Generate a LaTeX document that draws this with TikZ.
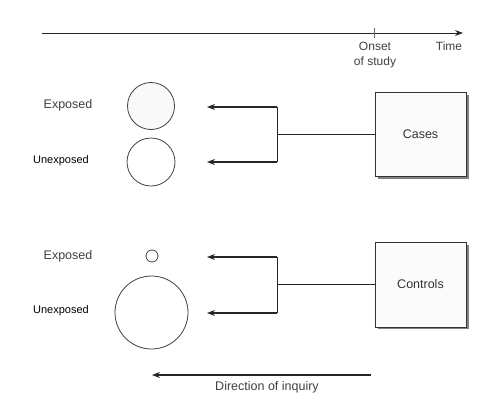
\documentclass[tikz,border=0pt]{standalone}
\usepackage{fontspec}
\setmainfont{Liberation Sans}
\usetikzlibrary{arrows.meta}
\begin{document}
\begin{tikzpicture}[x=1pt,y=-1pt,
  line width=1.1pt,
  lab/.style={font=\fontsize{12.5}{14}\selectfont, inner sep=0pt, text=black!75},
  ulab/.style={font=\fontsize{11}{13}\selectfont, inner sep=0pt, text=black},
  grp/.style={circle, draw=black!75, line width=0.8pt, inner sep=0pt},
  groupbox/.style={draw=black!80, line width=0.8pt, fill=gray!3, minimum width=91pt, minimum height=84pt, inner sep=0pt,
     font=\fontsize{12.5}{14}\selectfont, text=black!80},
  shadowbox/.style={fill=black!50, minimum width=91pt, minimum height=84pt, inner sep=0pt},
  arr/.style={-{Stealth[length=8pt,width=6pt]}, draw=black!85}
]
\useasboundingbox (0,0) rectangle (500,402);

% time axis
\coordinate (t0) at (42,33);
\coordinate (t1) at (463,33);
\draw[arr, line width=1pt] (t0) -- (t1);
\coordinate (tk0) at (374,28);
\coordinate (tk1) at (374,38);
\draw[line width=0.6pt, black!60] (tk0) -- (tk1);
\node[lab, align=center, font=\fontsize{12}{15}\selectfont] (onset) at (375,55) {Onset\\of study};
\node[lab, font=\fontsize{12}{14}\selectfont] (time) at (449,46) {Time};

% cases
\node[shadowbox] (cs) at (423,136.5) {};
\node[groupbox] (cases) at (420.5,134) {Cases};
\coordinate (cj) at (277,134);
\coordinate (ca) at (277,107);
\coordinate (cb) at (277,162);
\node[grp, fill=gray!5, minimum size=47pt] (ce) at (151,106) {};
\node[grp, fill=white, minimum size=48pt] (cu) at (151,162) {};
\node[lab] (cel) at (68,105) {Exposed};
\node[ulab] (cul) at (61,161) {Unexposed};
\coordinate (cae) at (207,107);
\coordinate (cbe) at (207,162);
\draw[line width=0.9pt, black!85] (cases.west) -- (cj);
\draw[line width=0.9pt, black!85] (ca) -- (cb);
\draw[arr] (ca) -- (cae);
\draw[arr] (cb) -- (cbe);

% controls
\node[shadowbox] (ks) at (423,287) {};
\node[groupbox, minimum height=85pt] (controls) at (420.5,284.5) {Controls};
\coordinate (kj) at (277,284);
\coordinate (ka) at (277,257);
\coordinate (kb) at (277,313);
\node[grp, fill=white, minimum size=12pt] (ke) at (152,256) {};
\node[grp, fill=white, minimum size=73pt] (ku) at (151.5,312.5) {};
\node[lab] (kel) at (68,256) {Exposed};
\node[ulab] (kul) at (61,311) {Unexposed};
\coordinate (kae) at (207,257);
\coordinate (kbe) at (207,313);
\draw[line width=0.9pt, black!85] (kj) -- (controls.west |- kj);
\draw[line width=0.9pt, black!85] (ka) -- (kb);
\draw[arr] (ka) -- (kae);
\draw[arr] (kb) -- (kbe);

% direction of inquiry
\coordinate (d0) at (371,375);
\coordinate (d1) at (152,375);
\draw[arr] (d0) -- (d1);
\node[lab] (dl) at (267,387) {Direction of inquiry};
\end{tikzpicture}
\end{document}
